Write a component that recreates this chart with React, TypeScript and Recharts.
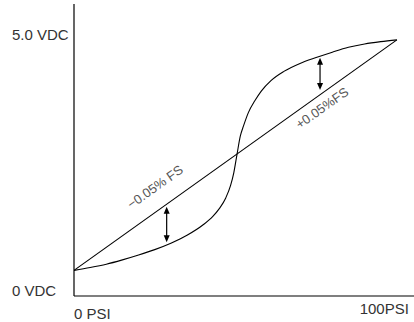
import React from "react";
import {
  LineChart,
  Line,
  XAxis,
  YAxis,
  ReferenceLine,
  ReferenceDot,
} from "recharts";

// output curve (PSI -> volts)
const curvePsi = [0, 5, 10, 15, 20, 25, 30, 35, 40, 43, 45, 47, 48.5, 49.5, 50.5, 51.5, 52.5, 54, 56, 58, 61, 65, 70, 75, 80, 85, 90, 95, 100];
const curveVolts = [0.5, 0.555, 0.62, 0.705, 0.8, 0.905, 1.03, 1.185, 1.39, 1.555, 1.705, 1.915, 2.16, 2.41, 2.77, 3.12, 3.32, 3.58, 3.81, 4.0, 4.205, 4.385, 4.54, 4.655, 4.76, 4.855, 4.92, 4.965, 5.0];

// ideal straight line
const idealPsi = [0, 100];
const idealVolts = [0.5, 5.0];

const xTicks = [0, 100];
const xTickLabels = ["0 PSI", "100PSI"];
const yTicks = [0, 5];
const yTickLabels = ["0 VDC", "5.0 VDC"];

// error arrows: [psi, from volts, to volts]
const arrows = [
  [28.7, 1.74, 1.05],
  [76.2, 4.65, 4.02],
];

// rotated notes: [psi, volts, text]
const notes: [number, number, string][] = [
  [25.1, 2.13, "\u22120.05% FS"],
  [76.8, 3.67, "+0.05%FS"],
];

const curveData = curvePsi.map((p, i) => ({ psi: p, v: curveVolts[i] }));
const idealData = idealPsi.map((p, i) => ({ psi: p, v: idealVolts[i] }));

const font = "'Liberation Sans', Arial, sans-serif";

const XTick = (props: any) => {
  const { x, y, payload } = props;
  const idx = xTicks.indexOf(payload.value);
  const first = idx === 0;
  return (
    <text
      x={first ? x : x + 12}
      y={first ? y + 15 : y + 10}
      textAnchor={first ? "start" : "end"}
      fontSize={15}
      fontFamily={font}
      fill="#333"
    >
      {xTickLabels[idx]}
    </text>
  );
};

const YTick = (props: any) => {
  const { y, payload } = props;
  const idx = yTicks.indexOf(payload.value);
  return (
    <text x={12} y={y} dy={0} textAnchor="start" fontSize={15} fontFamily={font} fill="#333">
      {yTickLabels[idx]}
    </text>
  );
};

const Arrow = (props: any) => {
  const { x1, y1, x2, y2 } = props;
  const dir = y2 > y1 ? 1 : -1;
  return (
    <g>
      <line x1={x1} y1={y1 + dir * 4} x2={x2} y2={y2 - dir * 4} stroke="#000" strokeWidth={1.2} />
      <polygon points={`${x1},${y1} ${x1 - 3},${y1 + dir * 7} ${x1 + 3},${y1 + dir * 7}`} fill="#000" />
      <polygon points={`${x2},${y2} ${x2 - 3},${y2 - dir * 7} ${x2 + 3},${y2 - dir * 7}`} fill="#000" />
    </g>
  );
};

const Note = (text: string) => (props: any) => {
  const { cx, cy } = props;
  return (
    <text
      x={cx}
      y={cy}
      textAnchor="middle"
      dominantBaseline="central"
      fontSize={13}
      fontFamily={font}
      fill="#555"
      transform={`rotate(-35.4 ${cx} ${cy})`}
    >
      {text}
    </text>
  );
};

export default function App() {
  return (
    <div style={{ position: "absolute", left: 0, top: 0, background: "#fff" }}>
      <LineChart width={414} height={322} margin={{ top: 4, right: 0, bottom: 0, left: 0 }}>
        <XAxis
          dataKey="psi"
          type="number"
          domain={[0, 105.3]}
          ticks={xTicks}
          allowDataOverflow
          height={26}
          tickLine={false}
          axisLine={{ stroke: "#000", strokeWidth: 1.2 }}
          tick={<XTick />}
          interval={0}
        />
        <YAxis
          type="number"
          domain={[0, 5.7]}
          ticks={yTicks}
          allowDataOverflow
          width={74}
          tickLine={false}
          axisLine={{ stroke: "#000", strokeWidth: 1.2 }}
          tick={<YTick />}
          interval={0}
        />
        <Line
          data={idealData}
          dataKey="v"
          type="linear"
          stroke="#000"
          strokeWidth={1.1}
          dot={false}
          isAnimationActive={false}
        />
        <Line
          data={curveData}
          dataKey="v"
          type="monotone"
          stroke="#000"
          strokeWidth={1.1}
          dot={false}
          isAnimationActive={false}
        />
        {arrows.map(([p, a, b], i) => (
          <ReferenceLine
            key={"a" + i}
            segment={[{ x: p, y: a }, { x: p, y: b }]}
            shape={<Arrow />}
          />
        ))}
        {notes.map(([p, v, t], i) => (
          <ReferenceDot key={"n" + i} x={p} y={v} r={0} shape={Note(t)} />
        ))}
      </LineChart>
    </div>
  );
}
